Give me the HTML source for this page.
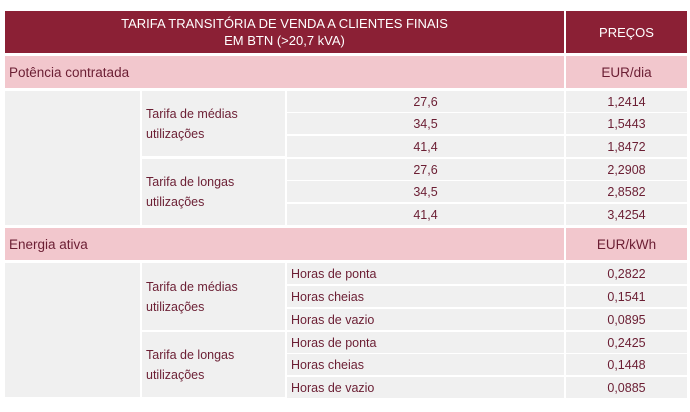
<!DOCTYPE html>
<html><head><meta charset="utf-8"><style>
body{margin:0;width:690px;height:412px;background:#fff;position:relative;overflow:hidden;font-family:"Liberation Sans",sans-serif;}
.c{position:absolute;box-sizing:border-box;font-size:12.5px;color:#6b1e33;display:flex;align-items:center;white-space:nowrap;}
.h{background:#8b2035;color:#fff;justify-content:center;text-align:center;line-height:17px;font-size:13px}
.s{background:#f2c7cd;font-size:13.5px;padding-left:4px}
.g{background:#f0f0f0}
.r{justify-content:center}
.l{padding-left:4px}
.t{line-height:20px;white-space:normal;padding-left:4px}
</style></head><body>
<div class="c h" style="left:5px;top:11px;width:559px;height:42px">TARIFA TRANSITÓRIA DE VENDA A CLIENTES FINAIS<br>EM BTN (&gt;20,7 kVA)</div>
<div class="c h" style="left:566px;top:11px;width:121px;height:42px">PREÇOS</div>

<div class="c s" style="left:5px;top:56px;width:559px;height:32px">Potência contratada</div>
<div class="c s r" style="left:566px;top:56px;width:121px;height:32px;padding:0">EUR/dia</div>
<div class="c g" style="left:5px;top:91px;width:135px;height:134px"></div>
<div class="c g t" style="left:142px;top:91px;width:143px;height:65px">Tarifa de médias utilizações</div>
<div class="c g t" style="left:142px;top:159px;width:143px;height:66px">Tarifa de longas utilizações</div>

<div class="c s" style="left:5px;top:228px;width:559px;height:32px">Energia ativa</div>
<div class="c s r" style="left:566px;top:228px;width:121px;height:32px;padding:0">EUR/kWh</div>
<div class="c g" style="left:5px;top:263px;width:135px;height:134px"></div>
<div class="c g t" style="left:142px;top:263px;width:143px;height:67px">Tarifa de médias utilizações</div>
<div class="c g t" style="left:142px;top:332px;width:143px;height:65px">Tarifa de longas utilizações</div>

<div id="rows"></div>
<script>
const powerLabels=["27,6","34,5","41,4","27,6","34,5","41,4"];
const powerPrices=["1,2414","1,5443","1,8472","2,2908","2,8582","3,4254"];
const energyLabels=["Horas de ponta","Horas cheias","Horas de vazio","Horas de ponta","Horas cheias","Horas de vazio"];
const energyPrices=["0,2822","0,1541","0,0895","0,2425","0,1448","0,0885"];
const powerTops=[91,113,136,159,181,204];
const energyTops=[263,286,309,332,354,377];
const root=document.getElementById('rows');
function cell(x,y,w,h,txt,cls,name){
  const d=document.createElement('div');
  d.className='c g '+cls;
  d.style.cssText=`left:${x}px;top:${y}px;width:${w}px;height:${h}px`;
  d.textContent=txt;
  
  
  root.appendChild(d);
}
powerLabels.forEach((v,i)=>{
  cell(287,powerTops[i],277,21,v,'r','power-kva');
  cell(566,powerTops[i],121,21,powerPrices[i],'r','power-price');
});
energyLabels.forEach((v,i)=>{
  cell(287,energyTops[i],277,21,v,'l','energy-period');
  cell(566,energyTops[i],121,21,energyPrices[i],'r','energy-price');
});
</script>
</body></html>
